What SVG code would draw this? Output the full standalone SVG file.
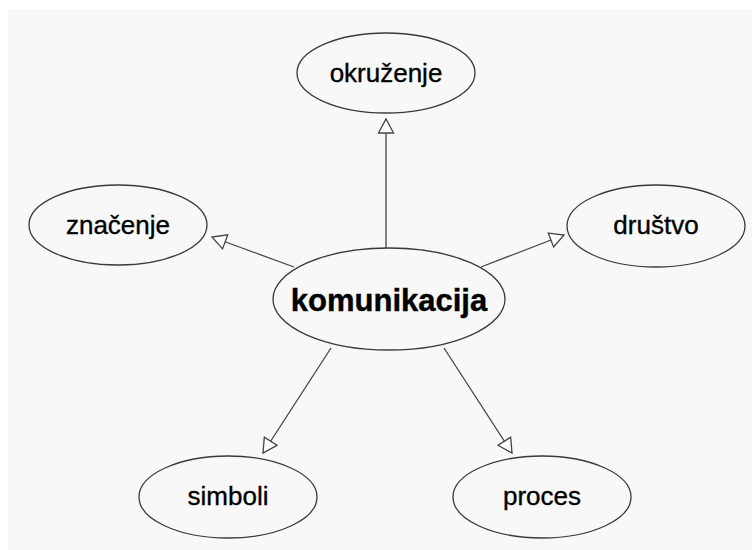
<svg xmlns="http://www.w3.org/2000/svg" width="752" height="550" viewBox="0 0 752 550">
  <style>
    .node ellipse { fill: #f8f8f8; stroke: #3a3a3a; stroke-width: 1.3; }
    .node text { font-family: "Liberation Sans", Arial, sans-serif; font-size: 26px; fill: #000; stroke: #000; stroke-width: 0.35; text-anchor: middle; }
    .node text.main { font-size: 31px; font-weight: bold; stroke-width: 0.4; }
    .edges line { stroke: #444; stroke-width: 1.3; marker-end: url(#open-arrow); }
  </style>
  <defs>
    <marker id="open-arrow" markerUnits="userSpaceOnUse" markerWidth="18" markerHeight="18" refX="14" refY="7.5" orient="auto" overflow="visible">
      <path d="M0,0 L14,7.5 L0,15 Z" fill="#ffffff" stroke="#444" stroke-width="1.3" stroke-linejoin="miter"/>
    </marker>
  </defs>

  <rect x="0" y="0" width="752" height="550" fill="#ffffff"/>
  <rect x="8" y="9" width="744" height="541" fill="#f8f8f8"/>

  <g class="edges">
    <line x1="386" y1="248" x2="386" y2="119"/>
    <line x1="294" y1="267" x2="212" y2="237"/>
    <line x1="481" y1="267" x2="564" y2="235"/>
    <line x1="331" y1="348" x2="263" y2="453"/>
    <line x1="444" y1="348" x2="512" y2="453"/>
  </g>

  <g id="komunikacija" class="node">
    <ellipse cx="389" cy="299" rx="116" ry="51"/>
    <text class="main" x="389" y="311">komunikacija</text>
  </g>
  <g id="okruzenje" class="node">
    <ellipse cx="386" cy="73" rx="89" ry="40"/>
    <text x="386" y="82">okruženje</text>
  </g>
  <g id="znacenje" class="node">
    <ellipse cx="118" cy="225" rx="89" ry="40"/>
    <text x="118" y="234">značenje</text>
  </g>
  <g id="drustvo" class="node">
    <ellipse cx="656" cy="226" rx="89" ry="41"/>
    <text x="656" y="234">društvo</text>
  </g>
  <g id="simboli" class="node">
    <ellipse cx="228" cy="497" rx="89" ry="41"/>
    <text x="228" y="505">simboli</text>
  </g>
  <g id="proces" class="node">
    <ellipse cx="542" cy="497" rx="89" ry="41"/>
    <text x="542" y="505">proces</text>
  </g>
</svg>
